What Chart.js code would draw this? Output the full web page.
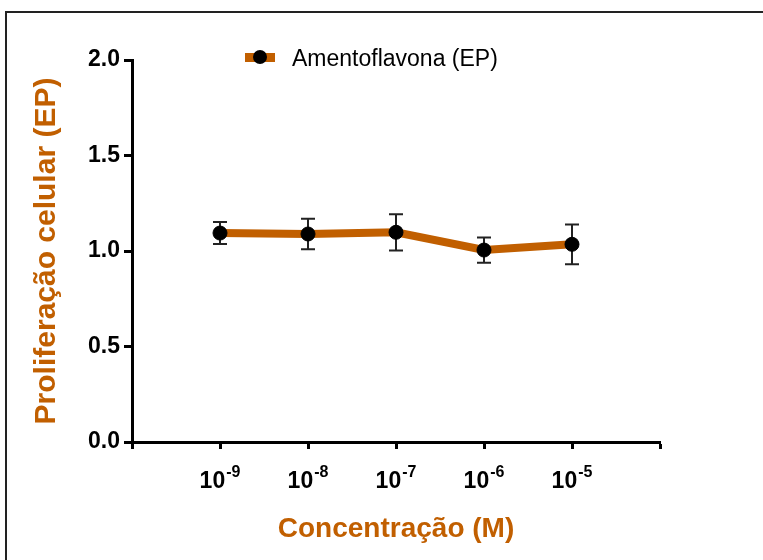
<!DOCTYPE html>
<html>
<head>
<meta charset="utf-8">
<script src="https://cdn.jsdelivr.net/npm/chart.js@4.4.1/dist/chart.umd.min.js"></script>
<style>
  body { margin: 0; background: #fff; }
  #wrap { position: relative; width: 763px; height: 560px; overflow: hidden; }
  #frame { position: absolute; left: 5px; top: 11px; width: 800px; height: 600px;
           border-left: 2px solid #222; border-top: 2px solid #222; }
  canvas { position: absolute; left: 0; top: 0; }
</style>
</head>
<body>
<div id="wrap">
  <div id="frame"></div>
  <canvas id="chart" width="763" height="560"></canvas>
</div>
<script>
// Data
const seriesName = 'Amentoflavona (EP)';
const concExponents = ['-9', '-8', '-7', '-6', '-5'];
const meanValues = [1.094, 1.089, 1.098, 1.005, 1.035];
const semValues = [0.058, 0.080, 0.095, 0.066, 0.104];
const yTicks = [0, 0.5, 1.0, 1.5, 2.0];

const ORANGE = '#c15f00';
const FONT = '"Liberation Sans", Arial, sans-serif';

Chart.defaults.font.family = FONT;
Chart.defaults.color = '#000';

// x positions 1..5, axis runs from 0 to 6
const points = meanValues.map((v, i) => ({ x: i + 1, y: v }));

// Error bars behind the line
const errorBars = {
    id: 'errorBars',
    beforeDatasetsDraw(chart) {
        const { ctx, scales: { x, y } } = chart;
        ctx.save();
        ctx.strokeStyle = '#222';
        ctx.lineWidth = 2;
        meanValues.forEach((m, i) => {
            const px = x.getPixelForValue(i + 1);
            const top = y.getPixelForValue(m + semValues[i]);
            const bot = y.getPixelForValue(m - semValues[i]);
            ctx.beginPath();
            ctx.moveTo(px, top); ctx.lineTo(px, bot);
            ctx.moveTo(px - 7, top); ctx.lineTo(px + 7, top);
            ctx.moveTo(px - 7, bot); ctx.lineTo(px + 7, bot);
            ctx.stroke();
        });
        ctx.restore();
    }
};

// x tick labels with superscript exponents + legend
const extras = {
    id: 'extras',
    afterDraw(chart) {
        const { ctx, scales: { x }, chartArea } = chart;
        ctx.save();
        ctx.fillStyle = '#000';
        ctx.textBaseline = 'alphabetic';
        ctx.textAlign = 'left';
        concExponents.forEach((e, i) => {
            const px = x.getPixelForValue(i + 1);
            ctx.font = 'bold 23px ' + FONT;
            const wBase = ctx.measureText('10').width;
            ctx.font = 'bold 16px ' + FONT;
            const wExp = ctx.measureText(e).width;
            const start = px - (wBase + 1 + wExp) / 2;
            ctx.font = 'bold 23px ' + FONT;
            ctx.fillText('10', start, chartArea.bottom + 46);
            ctx.font = 'bold 16px ' + FONT;
            ctx.fillText(e, start + wBase + 1, chartArea.bottom + 35);
        });

        // legend
        const lx = 245, ly = 57;
        ctx.fillStyle = ORANGE;
        ctx.fillRect(lx, ly - 4, 30, 9);
        ctx.fillStyle = '#000';
        ctx.beginPath();
        ctx.arc(lx + 15, ly, 7, 0, Math.PI * 2);
        ctx.fill();
        ctx.font = '23px ' + FONT;
        ctx.fillText(seriesName, 292, 66);
        ctx.restore();
    }
};

new Chart(document.getElementById('chart'), {
    type: 'line',
    data: {
        datasets: [{
            label: seriesName,
            data: points,
            borderColor: ORANGE,
            borderWidth: 8,
            tension: 0,
            pointRadius: 7,
            pointBackgroundColor: '#000',
            pointBorderColor: '#000',
            pointBorderWidth: 1
        }]
    },
    options: {
        responsive: false,
        animation: false,
        layout: { padding: { left: 0, top: 60, right: 103, bottom: 0 } },
        plugins: { legend: { display: false }, tooltip: { enabled: false } },
        scales: {
            x: {
                type: 'linear',
                min: 0,
                max: 6,
                afterBuildTicks: (s) => { s.ticks = [0, 1, 2, 3, 4, 5, 6].map(v => ({ value: v })); },
                afterFit: (s) => { s.height = 118; },
                ticks: { callback: () => '' },
                grid: { drawOnChartArea: false, drawTicks: true, tickLength: 7, tickWidth: 3, tickColor: '#000' },
                border: { color: '#000', width: 3 },
                title: {
                    display: true,
                    text: 'Concentração (M)',
                    color: ORANGE,
                    font: { size: 28, weight: 'bold' },
                    padding: { top: 0, bottom: 14 }
                }
            },
            y: {
                min: 0,
                max: 2,
                afterBuildTicks: (s) => { s.ticks = yTicks.map(v => ({ value: v })); },
                afterFit: (s) => { s.width = 132; },
                ticks: {
                    callback: (v) => Number(v).toFixed(1),
                    font: { size: 23, weight: 'bold' },
                    color: '#000',
                    padding: 4
                },
                grid: { drawOnChartArea: false, drawTicks: true, tickLength: 8, tickWidth: 3, tickColor: '#000' },
                border: { color: '#000', width: 3 },
                title: {
                    display: true,
                    text: 'Proliferação celular (EP)',
                    color: ORANGE,
                    font: { size: 30, weight: 'bold' },
                    padding: { top: 29, bottom: 0 }
                }
            }
        }
    },
    plugins: [errorBars, extras]
});
</script>
</body>
</html>
